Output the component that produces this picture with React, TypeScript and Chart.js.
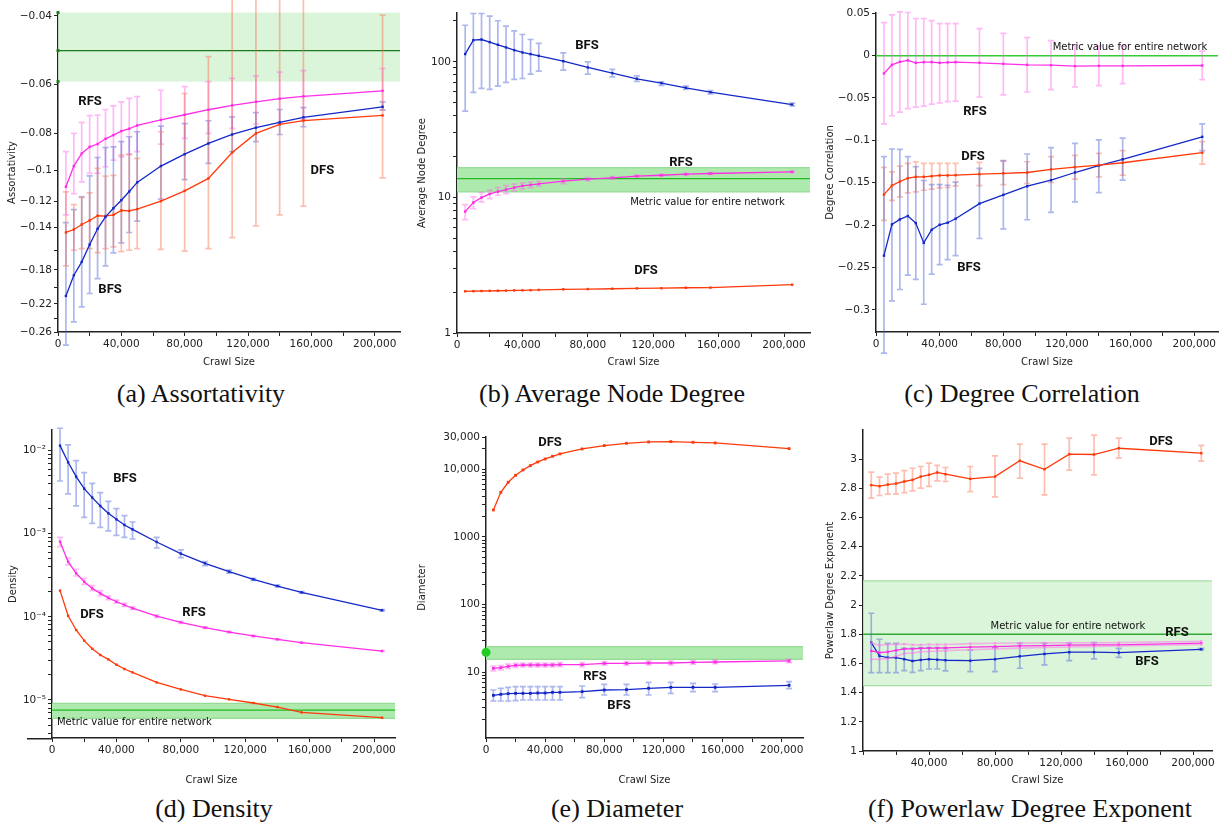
import { useEffect, useRef } from 'react';
import { Chart, registerables } from 'chart.js';
Chart.register(...registerables);

const FONT = '"DejaVu Sans", sans-serif';
const LABEL_FONT = 'bold 13px Roboto, "DejaVu Sans", sans-serif';
const NOTE_FONT = '10px "DejaVu Sans", sans-serif';

// ---------- shared x data ----------
const crawlSizes = [5000, 10000, 15000, 20000, 25000, 30000, 35000, 40000, 45000, 50000, 65000, 80000, 95000, 110000, 125000, 140000, 155000, 205000];
const xTickValues = [0, 20000, 40000, 60000, 80000, 100000, 120000, 140000, 160000, 180000, 200000];
const xTickLabels = ['0', '', '40,000', '', '80,000', '', '120,000', '', '160,000', '', '200,000'];
const xTickLabelsNoZero = ['', '', '40,000', '', '80,000', '', '120,000', '', '160,000', '', '200,000'];

// ---------- (a) Assortativity ----------
const assortRFS = [-0.110, -0.0973, -0.0903, -0.0868, -0.0854, -0.0828, -0.0810, -0.0791, -0.0780, -0.0765, -0.0740, -0.0718, -0.0697, -0.0679, -0.0665, -0.0653, -0.0644, -0.0623];
const assortRFSLo = [-0.130, -0.1145, -0.1068, -0.1016, -0.1016, -0.0977, -0.0939, -0.0921, -0.0907, -0.0893, -0.0854, -0.0826, -0.0802, -0.0778, -0.0759, -0.0751, -0.0738, -0.0698];
const assortRFSHi = [-0.0893, -0.0802, -0.0751, -0.0722, -0.0719, -0.0696, -0.0681, -0.0665, -0.0652, -0.0645, -0.0621, -0.0608, -0.0590, -0.0579, -0.0571, -0.0558, -0.0553, -0.0546];
const assortBFS = [-0.210, -0.1858, -0.1716, -0.1549, -0.1411, -0.1314, -0.1249, -0.1191, -0.1131, -0.1072, -0.0973, -0.0907, -0.0851, -0.0807, -0.0775, -0.0751, -0.0729, -0.0685];
const assortBFSLo = [-0.281, -0.245, -0.224, -0.207, -0.1895, -0.1758, -0.1627, -0.1534, -0.1442, -0.1349, -0.1184, -0.1054, -0.0958, -0.0893, -0.0842, -0.0807, -0.0771, -0.0698];
const assortBFSHi = [-0.136, -0.1259, -0.1167, -0.1031, -0.0925, -0.0872, -0.0868, -0.0842, -0.0818, -0.0794, -0.0768, -0.0757, -0.0744, -0.0727, -0.0709, -0.0696, -0.0688, -0.0665];
const assortDFS = [-0.1442, -0.1417, -0.1375, -0.1343, -0.1306, -0.1309, -0.1299, -0.1266, -0.1269, -0.1256, -0.1198, -0.1127, -0.1047, -0.0898, -0.0802, -0.0760, -0.0743, -0.0721];
const assortDFSLo = [-0.1758, -0.1602, -0.1586, -0.1586, -0.1624, -0.1586, -0.157, -0.1616, -0.1602, -0.1586, -0.1594, -0.161, -0.1586, -0.1486, -0.1387, -0.130, -0.1234, -0.1043];
const assortDFSHi = [-0.1134, -0.1222, -0.1172, -0.1140, -0.0987, -0.1033, -0.1028, -0.0912, -0.0909, -0.0930, -0.0794, -0.0633, -0.0509, -0.030, -0.030, -0.030, -0.030, -0.0398];
const assortTickValues = [-0.04, -0.06, -0.08, -0.1, -0.12, -0.14, -0.16, -0.18, -0.2, -0.22, -0.24, -0.26];
const assortTickLabels = ['−0.04', '−0.06', '−0.08', '−0.1', '−0.12', '−0.14', '', '−0.18', '', '−0.22', '', '−0.26'];
const assortNetwork = [-0.059, -0.0491, -0.0392]; // band low, value, band high

// ---------- (b) Average node degree ----------
const degBFS = [114, 144.5, 146, 139.7, 133.5, 127.6, 121.9, 117.2, 114, 110.7, 101, 90.8, 82.5, 74.9, 69.6, 64.3, 59.7, 48.4];
const degBFSLo = [43.3, 59.4, 63.6, 62.5, 66.1, 70.4, 74.1, 75.3, 81.1, 85.3, 86.8, 81.1, 77.4, 71.6, 66.9, 62.5, 58, 47.3];
const degBFSHi = [186, 227, 227, 217, 200.7, 183, 169.3, 159, 146, 136.5, 116.5, 100, 87.8, 78.8, 71, 66.1, 61.4, 49.5];
const degRFS = [7.86, 9.16, 9.97, 10.6, 11.04, 11.42, 11.82, 12.16, 12.37, 12.58, 13.16, 13.62, 13.93, 14.33, 14.57, 14.83, 15.0, 15.43];
const degRFSLo = [6.86, 8.27, 9.27, 9.8, 10.37, 10.67, 11.17, 11.55, 11.82, 12.09, 12.65, 13.31, 13.65, 14.1, 14.35, 14.62, 14.8, 15.2];
const degRFSHi = [8.85, 10.09, 10.86, 11.3, 11.82, 12.23, 12.51, 12.8, 12.94, 13.16, 13.62, 14.01, 14.22, 14.58, 14.8, 15.05, 15.22, 15.66];
const degDFS = [2.03, 2.035, 2.04, 2.045, 2.05, 2.055, 2.06, 2.065, 2.07, 2.077, 2.10, 2.108, 2.12, 2.134, 2.14, 2.156, 2.163, 2.27];
const degTickValues = [1, 10, 100];
const degTickLabels = ['1', '10', '100'];
const degNetwork = [10.98, 13.77, 16.6];

// ---------- (c) Degree correlation ----------
const corrRFS = [-0.0213, -0.0111, -0.0075, -0.0059, -0.0087, -0.0079, -0.0079, -0.0087, -0.0083, -0.0079, -0.0087, -0.0099, -0.0111, -0.0115, -0.0126, -0.0123, -0.0123, -0.0119];
const corrRFSLo = [-0.0806, -0.0711, -0.0668, -0.0628, -0.0609, -0.0597, -0.0573, -0.0561, -0.0545, -0.0538, -0.049, -0.0466, -0.0431, -0.0403, -0.0372, -0.0356, -0.0332, -0.0285];
const corrRFSHi = [0.0387, 0.0478, 0.0514, 0.0506, 0.0435, 0.0435, 0.0411, 0.0375, 0.0375, 0.0375, 0.0316, 0.0261, 0.021, 0.0174, 0.0123, 0.0111, 0.0111, 0.0051];
const corrDFS = [-0.164, -0.1534, -0.1486, -0.1447, -0.1431, -0.1431, -0.1423, -0.1415, -0.1415, -0.1411, -0.1399, -0.1391, -0.1380, -0.1344, -0.1316, -0.1293, -0.1265, -0.1146];
const corrDFSLo = [-0.1945, -0.1708, -0.1668, -0.1621, -0.1609, -0.1589, -0.1577, -0.1561, -0.1557, -0.1538, -0.1534, -0.1522, -0.151, -0.1498, -0.1459, -0.1431, -0.1411, -0.1281];
const corrDFSHi = [-0.132, -0.1372, -0.1304, -0.1273, -0.1253, -0.1273, -0.1273, -0.1273, -0.1273, -0.1273, -0.1261, -0.1245, -0.1253, -0.1194, -0.1178, -0.1154, -0.1123, -0.1016];
const corrBFS = [-0.236, -0.1992, -0.1933, -0.1893, -0.1976, -0.221, -0.2055, -0.1996, -0.1972, -0.1925, -0.1747, -0.1644, -0.1542, -0.147, -0.138, -0.130, -0.1225, -0.096];
const corrBFSLo = [-0.351, -0.2893, -0.2759, -0.2589, -0.264, -0.2933, -0.2577, -0.2467, -0.2407, -0.236, -0.2158, -0.2044, -0.1937, -0.185, -0.1727, -0.1617, -0.147, -0.1123];
const corrBFSHi = [-0.1194, -0.1103, -0.1107, -0.1194, -0.1312, -0.1474, -0.1522, -0.1522, -0.153, -0.1494, -0.1332, -0.1241, -0.1162, -0.1087, -0.1036, -0.0996, -0.0976, -0.0806];
const corrTickValues = [0.05, 0, -0.05, -0.1, -0.15, -0.2, -0.25, -0.3];
const corrTickLabels = ['0.05', '0', '−0.05', '−0.1', '−0.15', '−0.2', '−0.25', '−0.3'];
const corrNetwork = -0.0005;

// ---------- (d) Density ----------
const densBFS = [0.01148, 0.00724, 0.00487, 0.00349, 0.00272, 0.00216, 0.00176, 0.00149, 0.001275, 0.00113, 0.000796, 0.000576, 0.000441, 0.00035, 0.000283, 0.000235, 0.000197, 0.00012];
const densBFSLo = [0.00431, 0.00301, 0.00216, 0.001577, 0.001335, 0.001195, 0.00108, 0.000957, 0.000906, 0.000865, 0.000674, 0.000516, 0.000413, 0.000335, 0.000275, 0.000229, 0.000193, 0.000118];
const densBFSHi = [0.01857, 0.0117, 0.00758, 0.00544, 0.00404, 0.00313, 0.002457, 0.002, 0.00165, 0.001385, 0.000906, 0.000638, 0.000462, 0.000365, 0.00029, 0.000241, 0.000201, 0.000122];
const densRFS = [0.000803, 0.000462, 0.000334, 0.000265, 0.00022, 0.000192, 0.000169, 0.000152, 0.000139, 0.000127, 0.000102, 8.6e-5, 7.41e-5, 6.57e-5, 5.89e-5, 5.36e-5, 4.89e-5, 3.88e-5];
const densRFSLo = [0.0007, 0.000421, 0.00031, 0.000246, 0.000207, 0.00018, 0.000161, 0.000146, 0.000134, 0.000123, 9.85e-5, 8.35e-5, 7.25e-5, 6.45e-5, 5.8e-5, 5.28e-5, 4.83e-5, 3.83e-5];
const densRFSHi = [0.000906, 0.000506, 0.000373, 0.000291, 0.000237, 0.000207, 0.000178, 0.000159, 0.000145, 0.000132, 0.000106, 8.85e-5, 7.6e-5, 6.7e-5, 5.98e-5, 5.44e-5, 4.95e-5, 3.93e-5];
const densDFS = [0.000207, 0.000103, 6.95e-5, 5.17e-5, 4.14e-5, 3.48e-5, 3.08e-5, 2.66e-5, 2.36e-5, 2.15e-5, 1.63e-5, 1.34e-5, 1.126e-5, 1.018e-5, 9.2e-6, 8.23e-6, 7.1e-6, 6.12e-6];
const densTickValues = [1e-5, 1e-4, 1e-3, 1e-2];
const densTickLabels = ['10⁻⁵', '10⁻⁴', '10⁻³', '10⁻²'];
const densNetwork = [6.01e-6, 7.57e-6, 9.11e-6];

// ---------- (e) Diameter ----------
const diamDFS = [2506, 4571, 6430, 8150, 9775, 11330, 12830, 14210, 15560, 16860, 19970, 22390, 24220, 25350, 25640, 25060, 24500, 20200];
const diamRFS = [11.46, 11.72, 12.27, 12.69, 12.83, 12.83, 12.83, 12.83, 12.83, 12.98, 12.98, 13.58, 13.58, 13.74, 13.74, 14.05, 14.21, 14.71];
const diamRFSLo = [10.5, 10.9, 11.4, 11.8, 12.0, 12.0, 12.0, 12.0, 12.0, 12.1, 12.1, 12.8, 12.8, 12.9, 12.9, 13.2, 13.4, 13.9];
const diamRFSHi = [12.4, 12.6, 13.2, 13.6, 13.7, 13.7, 13.7, 13.7, 13.7, 13.9, 13.9, 14.4, 14.4, 14.6, 14.6, 14.9, 15.1, 15.6];
const diamBFS = [4.57, 4.73, 4.84, 4.89, 4.89, 4.89, 4.95, 4.95, 5.06, 5.06, 5.18, 5.48, 5.54, 5.80, 6.0, 6.0, 6.0, 6.43];
const diamBFSLo = [3.77, 3.77, 3.77, 3.81, 3.90, 3.90, 3.90, 3.90, 3.90, 3.90, 4.22, 4.62, 4.62, 4.62, 4.89, 5.18, 5.18, 5.74];
const diamBFSHi = [5.48, 5.80, 6.0, 6.14, 6.14, 6.14, 6.14, 6.14, 6.14, 6.14, 6.28, 6.65, 6.65, 7.12, 7.12, 6.88, 6.72, 7.28];
const diamTickValues = [10, 100, 1000, 10000, 30000];
const diamTickLabels = ['10', '100', '1000', '10,000', '30,000'];
const diamNetwork = [15.56, 19.75, 23.95];

// ---------- (f) Powerlaw degree exponent ----------
const plawDFS = [2.822, 2.815, 2.826, 2.833, 2.847, 2.858, 2.881, 2.893, 2.909, 2.897, 2.865, 2.881, 2.989, 2.931, 3.034, 3.032, 3.075, 3.041];
const plawDFSLo = [2.733, 2.751, 2.76, 2.76, 2.771, 2.783, 2.801, 2.813, 2.851, 2.847, 2.778, 2.742, 2.87, 2.755, 2.925, 2.893, 3.007, 2.986];
const plawDFSHi = [2.911, 2.877, 2.897, 2.904, 2.922, 2.938, 2.95, 2.973, 2.957, 2.943, 2.95, 3.023, 3.103, 3.103, 3.144, 3.165, 3.144, 3.094];
const plawBFS = [1.743, 1.651, 1.64, 1.64, 1.629, 1.617, 1.624, 1.629, 1.626, 1.622, 1.619, 1.629, 1.649, 1.665, 1.677, 1.677, 1.674, 1.697];
const plawBFSLo = [1.537, 1.537, 1.537, 1.537, 1.551, 1.539, 1.551, 1.562, 1.562, 1.549, 1.544, 1.544, 1.567, 1.59, 1.619, 1.631, 1.642, 1.693];
const plawBFSHi = [1.944, 1.766, 1.738, 1.738, 1.704, 1.704, 1.709, 1.709, 1.709, 1.704, 1.693, 1.709, 1.738, 1.738, 1.738, 1.743, 1.704, 1.704];
const plawRFS = [1.686, 1.674, 1.679, 1.69, 1.70, 1.70, 1.703, 1.705, 1.705, 1.707, 1.712, 1.716, 1.72, 1.722, 1.725, 1.727, 1.728, 1.74];
const plawRFSUpper = [1.74, 1.725, 1.73, 1.73, 1.733, 1.728, 1.728, 1.73, 1.73, 1.73, 1.736, 1.738, 1.74, 1.741, 1.742, 1.742, 1.743, 1.752];
const plawRFSLower = [1.629, 1.629, 1.633, 1.65, 1.668, 1.672, 1.68, 1.682, 1.685, 1.688, 1.694, 1.7, 1.705, 1.71, 1.713, 1.716, 1.72, 1.73];
const plawTickValues = [1, 1.2, 1.4, 1.6, 1.8, 2, 2.2, 2.4, 2.6, 2.8, 3];
const plawTickLabels = ['1', '1.2', '1.4', '1.6', '1.8', '2', '2.2', '2.4', '2.6', '2.8', '3'];
const plawNetwork = [1.448, 1.8, 2.166];

// ---------- styles ----------
const BLUE = '#1428c8';
const MAGENTA = '#ff2ee6';
const RED = '#ff3a0a';
const BLUE_ERR = 'rgba(70,95,215,0.45)';
const MAGENTA_ERR = 'rgba(255,100,235,0.45)';
const RED_ERR = 'rgba(250,110,80,0.45)';
const PINK_LIGHT = 'rgba(255,120,235,0.55)';

type Series = { values: number[]; lo?: number[]; hi?: number[]; color: string; errColor?: string; width?: number; radius?: number };
type TextItem = { text: string; x: number; y: number; note?: boolean; align?: CanvasTextAlign };
type PanelCfg = {
  left: number; top: number; width: number; height: number;
  plot: { l: number; r: number; t: number; b: number };
  yType: 'linear' | 'logarithmic'; yMin: number; yMax: number; reverse?: boolean;
  tf?: (v: number) => number;
  yTicks: { value: number; label: string }[];
  xMax: number; xLabels: string[];
  yTitle: string; yTitlePad: number;
  series: Series[];
  band?: { lo: number; hi: number; fill: string; edge?: string };
  refLine?: { value: number; color: string; width: number };
  dot?: { x: number; y: number; color: string };
  axisMarks?: { values: number[]; color: string };
  texts: TextItem[];
  axisExtendLeft?: number; xTitleShift?: number;
};

function logTicks(min: number, max: number, majors: number[], labels: string[]) {
  const out: { value: number; label: string }[] = [];
  for (let e = Math.floor(Math.log10(min)); e <= Math.ceil(Math.log10(max)); e++) {
    for (let k = 1; k <= 9; k++) {
      const v = k * Math.pow(10, e);
      if (v < min * 0.9999 || v > max * 1.0001) continue;
      const idx = majors.findIndex((m) => Math.abs(m - v) / m < 1e-6);
      out.push({ value: idx >= 0 ? majors[idx] : v, label: idx >= 0 ? labels[idx] : '' });
    }
  }
  return out;
}
const linTicks = (vals: number[], labels: string[], tf: (v: number) => number = (v) => v) =>
  vals.map((v, i) => ({ value: tf(v), label: labels[i] }));

const neg = (v: number) => -v;

const panels: PanelCfg[] = [
  {
    left: 0, top: 0, width: 408, height: 372, plot: { l: 58, r: 400, t: 13, b: 332 },
    yType: 'logarithmic', yMin: 0.0393, yMax: 0.26, reverse: true, tf: neg,
    yTicks: linTicks(assortTickValues, assortTickLabels, neg),
    xMax: 216000, xLabels: xTickLabels, yTitle: 'Assortativity', yTitlePad: 6,
    series: [
      { values: assortRFS, lo: assortRFSLo, hi: assortRFSHi, color: MAGENTA, errColor: MAGENTA_ERR },
      { values: assortBFS, lo: assortBFSLo, hi: assortBFSHi, color: BLUE, errColor: BLUE_ERR },
      { values: assortDFS, lo: assortDFSLo, hi: assortDFSHi, color: RED, errColor: RED_ERR },
    ],
    band: { lo: assortNetwork[0], hi: assortNetwork[2], fill: 'rgba(205,242,205,0.75)' },
    refLine: { value: assortNetwork[1], color: '#1f7a1f', width: 1.3 },
    axisMarks: { values: assortNetwork, color: '#1f7a1f' },
    texts: [
      { text: 'RFS', x: 20250, y: -0.0665 },
      { text: 'BFS', x: 32900, y: -0.203 },
      { text: 'DFS', x: 167000, y: -0.1 },
    ],
  },
  {
    left: 408, top: 0, width: 408, height: 372, plot: { l: 457, r: 810, t: 13, b: 333 },
    yType: 'logarithmic', yMin: 1, yMax: 229,
    yTicks: logTicks(1, 229, degTickValues, degTickLabels),
    xMax: 215900, xLabels: xTickLabels, yTitle: 'Average Node Degree', yTitlePad: 8,
    series: [
      { values: degBFS, lo: degBFSLo, hi: degBFSHi, color: BLUE, errColor: BLUE_ERR },
      { values: degRFS, lo: degRFSLo, hi: degRFSHi, color: MAGENTA, errColor: MAGENTA_ERR },
      { values: degDFS, color: RED },
    ],
    band: { lo: degNetwork[0], hi: degNetwork[2], fill: '#aee9ae', edge: '#95dc95' },
    refLine: { value: degNetwork[1], color: '#22bb22', width: 1.3 },
    texts: [
      { text: 'BFS', x: 79500, y: 130.5 },
      { text: 'RFS', x: 137000, y: 17.9 },
      { text: 'Metric value for entire network', x: 153200, y: 9.21, note: true },
      { text: 'DFS', x: 115600, y: 2.9 },
    ],
  },
  {
    left: 816, top: 0, width: 409, height: 372, plot: { l: 876, r: 1218, t: 13, b: 332 },
    yType: 'linear', yMin: -0.326, yMax: 0.05,
    yTicks: linTicks(corrTickValues, corrTickLabels),
    xMax: 214900, xLabels: xTickLabels, yTitle: 'Degree Correlation', yTitlePad: 8,
    series: [
      { values: corrRFS, lo: corrRFSLo, hi: corrRFSHi, color: MAGENTA, errColor: MAGENTA_ERR },
      { values: corrDFS, lo: corrDFSLo, hi: corrDFSHi, color: RED, errColor: RED_ERR },
      { values: corrBFS, lo: corrBFSLo, hi: corrBFSHi, color: BLUE, errColor: BLUE_ERR },
    ],
    refLine: { value: corrNetwork, color: '#33cc33', width: 1.5 },
    texts: [
      { text: 'Metric value for entire network', x: 159600, y: 0.0095, note: true },
      { text: 'RFS', x: 62200, y: -0.066 },
      { text: 'DFS', x: 61000, y: -0.1193 },
      { text: 'BFS', x: 58400, y: -0.2497 },
    ],
  },
  {
    left: 0, top: 420, width: 408, height: 370, plot: { l: 52, r: 395, t: 430, b: 738 },
    yType: 'logarithmic', yMin: 3.49e-6, yMax: 0.0177,
    yTicks: logTicks(3.49e-6, 0.0177, densTickValues, densTickLabels),
    xMax: 213000, xLabels: xTickLabels, yTitle: 'Density', yTitlePad: 7,
    series: [
      { values: densBFS, lo: densBFSLo, hi: densBFSHi, color: BLUE, errColor: BLUE_ERR },
      { values: densRFS, lo: densRFSLo, hi: densRFSHi, color: MAGENTA, errColor: MAGENTA_ERR },
      { values: densDFS, color: RED },
    ],
    band: { lo: densNetwork[0], hi: densNetwork[2], fill: '#aee9ae', edge: '#95dc95' },
    refLine: { value: densNetwork[1], color: '#22bb22', width: 1.3 },
    texts: [
      { text: 'BFS', x: 45300, y: 0.00456 },
      { text: 'RFS', x: 88200, y: 1.114e-4 },
      { text: 'DFS', x: 24800, y: 1.05e-4 },
      { text: 'Metric value for entire network', x: 3100, y: 5.43e-6, note: true, align: 'left' },
    ],
    axisExtendLeft: 25, xTitleShift: -12,
  },
  {
    left: 408, top: 420, width: 408, height: 370, plot: { l: 486, r: 803, t: 437, b: 738 },
    yType: 'logarithmic', yMin: 1.07, yMax: 30000,
    yTicks: logTicks(1.07, 30000, diamTickValues, diamTickLabels),
    xMax: 214400, xLabels: xTickLabels, yTitle: 'Diameter', yTitlePad: 8,
    series: [
      { values: diamDFS, color: RED, radius: 2 },
      { values: diamRFS, lo: diamRFSLo, hi: diamRFSHi, color: MAGENTA, errColor: MAGENTA_ERR, radius: 2 },
      { values: diamBFS, lo: diamBFSLo, hi: diamBFSHi, color: BLUE, errColor: BLUE_ERR, radius: 2 },
    ],
    band: { lo: diamNetwork[0], hi: diamNetwork[2], fill: '#aee9ae', edge: '#95dc95' },
    dot: { x: 0, y: diamNetwork[1], color: '#22cc22' },
    texts: [
      { text: 'DFS', x: 43300, y: 24500 },
      { text: 'RFS', x: 73700, y: 8.53 },
      { text: 'BFS', x: 90000, y: 3.18 },
    ],
  },
  {
    left: 816, top: 420, width: 409, height: 370, plot: { l: 863, r: 1212, t: 430, b: 751 },
    yType: 'linear', yMin: 1, yMax: 3.2,
    yTicks: linTicks(plawTickValues, plawTickLabels),
    xMax: 211500, xLabels: xTickLabelsNoZero, yTitle: 'Powerlaw Degree Exponent', yTitlePad: 8,
    series: [
      { values: plawDFS, lo: plawDFSLo, hi: plawDFSHi, color: RED, errColor: RED_ERR },
      { values: plawRFSUpper, color: PINK_LIGHT, width: 1.6 },
      { values: plawRFSLower, color: PINK_LIGHT, width: 1.6 },
      { values: plawRFS, color: MAGENTA },
      { values: plawBFS, lo: plawBFSLo, hi: plawBFSHi, color: BLUE, errColor: BLUE_ERR },
    ],
    band: { lo: plawNetwork[0], hi: plawNetwork[2], fill: 'rgba(205,242,205,0.75)', edge: '#a6dea6' },
    refLine: { value: plawNetwork[1], color: '#33aa33', width: 1.3 },
    texts: [
      { text: 'DFS', x: 180600, y: 3.119 },
      { text: 'RFS', x: 190300, y: 1.809 },
      { text: 'BFS', x: 172100, y: 1.61 },
      { text: 'Metric value for entire network', x: 124200, y: 1.857, note: true },
    ],
  },
];

const captions = [
  { text: '(a) Assortativity', cx: 201, baseline: 403 },
  { text: '(b) Average Node Degree', cx: 612, baseline: 403 },
  { text: '(c) Degree Correlation', cx: 1022, baseline: 403 },
  { text: '(d) Density', cx: 214, baseline: 818 },
  { text: '(e) Diameter', cx: 617, baseline: 818 },
  { text: '(f) Powerlaw Degree Exponent', cx: 1030, baseline: 818 },
];

function makeChart(canvas: HTMLCanvasElement, c: PanelCfg) {
  const tf = c.tf ?? ((v: number) => v);
  const datasets = c.series.map((s) => ({
    data: crawlSizes.map((x, i) => ({ x, y: tf(s.values[i]) })),
    borderColor: s.color,
    backgroundColor: s.color,
    pointBackgroundColor: s.color,
    borderWidth: s.width ?? 1.3,
    pointRadius: s.radius ?? 1.7,
    pointStyle: 'rect' as const,
    pointBorderWidth: 0,
    tension: 0,
  }));

  const decor = {
    id: 'decor',
    beforeDatasetsDraw(chart: any) {
      const { ctx, chartArea: a, scales } = chart;
      const x = scales.x, y = scales.y;
      ctx.save();
      if (c.band) {
        const y1 = y.getPixelForValue(tf(c.band.lo));
        const y2 = y.getPixelForValue(tf(c.band.hi));
        const top = Math.min(y1, y2), h = Math.abs(y2 - y1);
        ctx.fillStyle = c.band.fill;
        ctx.fillRect(a.left, top, a.right - a.left, h);
        if (c.band.edge) {
          ctx.strokeStyle = c.band.edge;
          ctx.lineWidth = 1.2;
          ctx.beginPath();
          ctx.moveTo(a.left, top); ctx.lineTo(a.right, top);
          ctx.moveTo(a.left, top + h); ctx.lineTo(a.right, top + h);
          ctx.stroke();
        }
      }
      if (c.refLine) {
        const yy = y.getPixelForValue(tf(c.refLine.value));
        ctx.strokeStyle = c.refLine.color;
        ctx.lineWidth = c.refLine.width;
        ctx.beginPath(); ctx.moveTo(a.left, yy); ctx.lineTo(a.right, yy); ctx.stroke();
      }
      c.series.forEach((s) => {
        if (!s.lo || !s.hi) return;
        ctx.strokeStyle = s.errColor ?? s.color;
        ctx.lineWidth = 1.7;
        ctx.beginPath();
        crawlSizes.forEach((cx, i) => {
          const px = x.getPixelForValue(cx);
          const y1 = y.getPixelForValue(tf(s.lo![i]));
          const y2 = y.getPixelForValue(tf(s.hi![i]));
          ctx.moveTo(px, y1); ctx.lineTo(px, y2);
          ctx.moveTo(px - 3, y1); ctx.lineTo(px + 3, y1);
          ctx.moveTo(px - 3, y2); ctx.lineTo(px + 3, y2);
        });
        ctx.stroke();
      });
      ctx.restore();
    },
    afterDatasetsDraw(chart: any) {
      const { ctx, chartArea: a, scales } = chart;
      const x = scales.x, y = scales.y;
      ctx.save();
      ctx.fillStyle = '#111';
      ctx.textBaseline = 'middle';
      c.texts.forEach((t) => {
        ctx.font = t.note ? NOTE_FONT : LABEL_FONT;
        ctx.textAlign = t.align ?? 'center';
        ctx.fillText(t.text, x.getPixelForValue(t.x), y.getPixelForValue(tf(t.y)));
      });
      if (c.dot) {
        ctx.fillStyle = c.dot.color;
        ctx.beginPath();
        ctx.arc(x.getPixelForValue(c.dot.x), y.getPixelForValue(tf(c.dot.y)), 4.5, 0, Math.PI * 2);
        ctx.fill();
      }
      if (c.axisMarks) {
        ctx.fillStyle = c.axisMarks.color;
        c.axisMarks.values.forEach((v) => {
          const yy = y.getPixelForValue(tf(v));
          ctx.fillRect(a.left - 1.5, yy - 1.5, 3, 3);
        });
      }
      ctx.restore();
    },
    afterDraw(chart: any) {
      const { ctx, chartArea: a } = chart;
      ctx.save();
      if (c.axisExtendLeft) {
        ctx.strokeStyle = '#222';
        ctx.lineWidth = 1.5;
        ctx.beginPath();
        ctx.moveTo(a.left - c.axisExtendLeft, a.bottom + 0.75);
        ctx.lineTo(a.left, a.bottom + 0.75);
        ctx.stroke();
      }
      if (c.xTitleShift) {
        ctx.fillStyle = '#222';
        ctx.font = `10px ${FONT}`;
        ctx.textAlign = 'center';
        ctx.textBaseline = 'middle';
        ctx.fillText('Crawl Size', (a.left + a.right) / 2 + c.xTitleShift, c.height - 10);
      }
      ctx.restore();
    },
  };

  return new Chart(canvas, {
    type: 'line',
    data: { datasets },
    plugins: [decor],
    options: {
      animation: false,
      responsive: false,
      devicePixelRatio: 1,
      layout: { padding: { left: 0, top: c.plot.t - c.top, right: c.left + c.width - c.plot.r, bottom: 0 } },
      plugins: { legend: { display: false }, tooltip: { enabled: false } },
      scales: {
        x: {
          type: 'linear', min: 0, max: c.xMax,
          afterBuildTicks: (s: any) => { s.ticks = xTickValues.map((v) => ({ value: v })); },
          afterFit: (s: any) => { s.height = c.top + c.height - c.plot.b; },
          ticks: { callback: (_v: any, i: number) => c.xLabels[i], font: { family: FONT, size: 10.5 }, color: '#222', padding: 2, maxRotation: 0, autoSkip: false },
          grid: { drawOnChartArea: false, tickLength: 4, color: '#222' },
          border: { color: '#222', width: 1.5 },
          title: { display: !c.xTitleShift, text: 'Crawl Size', font: { family: FONT, size: 10 }, color: '#222', padding: { top: 0, bottom: 4 } },
        },
        y: {
          type: c.yType, min: c.yMin, max: c.yMax, reverse: !!c.reverse,
          afterBuildTicks: (s: any) => { s.ticks = c.yTicks.map((t) => ({ value: t.value })); },
          afterFit: (s: any) => { s.width = c.plot.l - c.left; },
          ticks: { callback: (_v: any, i: number) => c.yTicks[i]?.label ?? '', font: { family: FONT, size: 10.5 }, color: '#222', padding: 2, autoSkip: false },
          grid: { drawOnChartArea: false, tickLength: 4, color: '#222' },
          border: { color: '#222', width: 1.5 },
          title: { display: true, text: c.yTitle, font: { family: FONT, size: 10 }, color: '#222', padding: { top: c.yTitlePad, bottom: 0 } },
        },
      } as any,
    },
  } as any);
}

function Panel({ cfg }: { cfg: PanelCfg }) {
  const ref = useRef<HTMLCanvasElement>(null);
  useEffect(() => {
    const chart = makeChart(ref.current!, cfg);
    return () => chart.destroy();
  }, [cfg]);
  return (
    <div style={{ position: 'absolute', left: cfg.left, top: cfg.top, width: cfg.width, height: cfg.height }}>
      <canvas ref={ref} width={cfg.width} height={cfg.height} style={{ width: cfg.width, height: cfg.height, display: 'block' }} />
    </div>
  );
}

export default function App() {
  return (
    <div style={{ position: 'absolute', left: 0, top: 0, width: 1225, height: 827, background: '#fff', overflow: 'hidden' }}>
      {panels.map((p, i) => <Panel key={i} cfg={p} />)}
      {captions.map((c, i) => (
        <div key={i} style={{ position: 'absolute', left: c.cx - 220, width: 440, top: c.baseline - 24, textAlign: 'center', fontFamily: '"Liberation Serif", serif', fontSize: 26, lineHeight: '30px', color: '#111', whiteSpace: 'nowrap' }}>
          {c.text}
        </div>
      ))}
    </div>
  );
}
